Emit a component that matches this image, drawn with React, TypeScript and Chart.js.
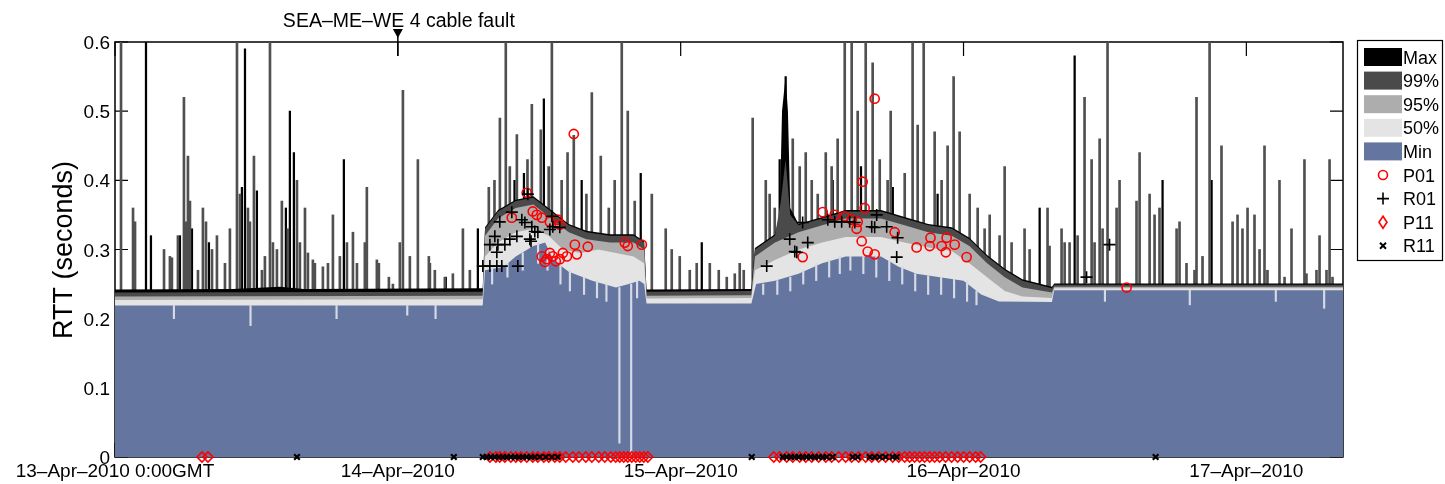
import { useEffect, useRef } from 'react';
import { Chart, registerables } from 'chart.js';

Chart.register(...registerables);

const FONT = '"Liberation Sans", Arial, Helvetica, sans-serif';

// ---- axes ----
const X_MAX = 104.2; // hours after 13-Apr-2010 0:00 GMT
const xTickHours = [0, 24, 48, 72, 96];
const xTickLabels = ['13–Apr–2010 0:00GMT', '14–Apr–2010', '15–Apr–2010', '16–Apr–2010', '17–Apr–2010'];
const yTickValues = [0, 0.1, 0.2, 0.3, 0.4, 0.5, 0.6];
const yTickLabels = ['0', '0.1', '0.2', '0.3', '0.4', '0.5', '0.6'];
const annotationHour = 24;
const annotationText = 'SEA–ME–WE 4 cable fault';

// ---- percentile layers: [hour, RTT seconds] ----
const maxLayer = [
  [0, 0.242], [10, 0.243], [14, 0.246], [16, 0.243], [31.2, 0.244], [31.4, 0.332], [32.5, 0.357], [34, 0.372],
  [35.5, 0.377], [37, 0.357], [38.5, 0.337], [40, 0.327], [42, 0.322], [44, 0.322], [44.9, 0.312], [45.1, 0.242],
  [54.0, 0.243], [54.3, 0.302], [56.0, 0.322], [56.4, 0.35], [56.6, 0.50], [56.9, 0.55], [57.1, 0.50], [57.3, 0.36],
  [58, 0.337], [60, 0.347], [62, 0.357], [65, 0.357], [67, 0.347], [69, 0.337], [71, 0.332], [72.5, 0.317],
  [74, 0.292], [75.5, 0.272], [77, 0.257], [79.5, 0.246], [79.7, 0.251], [104.2, 0.251],
];
const p99Layer = [
  [0, 0.238], [31.2, 0.239], [31.4, 0.33], [32.5, 0.355], [34, 0.37], [35.5, 0.375], [37, 0.355], [38.5, 0.335],
  [40, 0.325], [42, 0.32], [44, 0.32], [44.9, 0.31], [45.1, 0.239], [54.0, 0.24], [54.3, 0.30], [56, 0.32],
  [56.5, 0.37], [56.9, 0.43], [57.3, 0.35], [58, 0.335], [60, 0.345], [62, 0.355], [65, 0.355], [67, 0.345],
  [69, 0.335], [71, 0.33], [72.5, 0.315], [74, 0.29], [75.5, 0.27], [77, 0.255], [79.5, 0.244], [79.7, 0.249],
  [104.2, 0.249],
];
const p95Layer = [
  [0, 0.232], [31.2, 0.233], [31.4, 0.32], [32.5, 0.345], [34, 0.36], [35.5, 0.365], [37, 0.345], [38.5, 0.325],
  [40, 0.315], [42, 0.31], [44, 0.31], [44.9, 0.30], [45.1, 0.233], [54.0, 0.234], [54.3, 0.29], [56, 0.31],
  [58, 0.325], [60, 0.335], [62, 0.345], [65, 0.345], [67, 0.335], [69, 0.325], [71, 0.32], [72.5, 0.305],
  [74, 0.28], [75.5, 0.26], [77, 0.245], [79.5, 0.238], [79.7, 0.246], [104.2, 0.246],
];
const p50Layer = [
  [0, 0.227], [31.2, 0.228], [31.4, 0.29], [32.5, 0.31], [34, 0.325], [35.5, 0.33], [36.8, 0.32], [38, 0.30],
  [39.5, 0.295], [41, 0.30], [42.5, 0.295], [44, 0.29], [44.9, 0.28], [45.1, 0.229], [54.0, 0.23], [54.3, 0.27],
  [56, 0.285], [58, 0.30], [60, 0.31], [62, 0.318], [65, 0.318], [67, 0.31], [69, 0.303], [71, 0.298],
  [72.5, 0.28], [74, 0.26], [75.5, 0.24], [77, 0.232], [79.5, 0.23], [79.7, 0.244], [104.2, 0.244],
];
const minLayer = [
  [0, 0.219], [31.2, 0.219], [31.4, 0.27], [33, 0.275], [34, 0.29], [35.5, 0.305], [36.5, 0.31], [37.2, 0.285],
  [38.5, 0.268], [40.5, 0.255], [42.5, 0.245], [43.6, 0.25], [44.5, 0.255], [44.9, 0.25], [45.1, 0.222],
  [54.0, 0.222], [54.4, 0.25], [56, 0.255], [58, 0.265], [60, 0.28], [62, 0.29], [65, 0.29], [66.5, 0.275],
  [68, 0.265], [70, 0.26], [72, 0.255], [73.5, 0.235], [75, 0.225], [79.5, 0.224], [79.7, 0.241], [104.2, 0.241],
];

// ---- short spikes: [hour, peak RTT] ----
const maxSpikes = [
  [2.63, 0.62], [3.05, 0.32], [5.51, 0.32], [6.53, 0.33], [7.97, 0.31], [10.77, 0.39], [11.03, 0.59],
  [12.04, 0.385], [14.84, 0.50], [15.18, 0.44], [14.5, 0.36], [19.42, 0.43], [28.07, 0.26], [30.79, 0.33],
  [33.9, 0.40], [34.7, 0.41], [36.39, 0.518], [39.6, 0.40], [44.61, 0.41], [49.79, 0.31], [56.40, 0.43],
  [56.91, 0.55], [60.9, 0.40], [63.3, 0.42], [66.0, 0.39], [69.8, 0.38], [78.46, 0.36], [81.43, 0.58],
  [88.89, 0.40], [93.05, 0.40],
];
const p99Spikes = [
  [0.51, 0.62], [1.53, 0.36], [1.70, 0.34], [4.16, 0.30], [4.66, 0.29], [4.83, 0.288], [5.34, 0.32], [5.85, 0.52],
  [6.02, 0.34], [6.19, 0.435], [6.36, 0.37], [7.04, 0.27], [7.46, 0.36], [7.72, 0.34], [8.23, 0.30], [8.65, 0.32],
  [9.33, 0.28], [9.75, 0.33], [10.35, 0.62], [10.60, 0.38], [11.28, 0.36], [11.45, 0.34], [11.79, 0.435],
  [12.47, 0.27], [12.72, 0.29], [13.15, 0.62], [13.40, 0.31], [13.74, 0.30], [14.16, 0.37], [14.67, 0.33],
  [15.44, 0.40], [15.69, 0.31], [16.12, 0.36], [16.37, 0.295], [16.79, 0.285], [16.96, 0.28], [17.64, 0.275],
  [18.07, 0.28], [18.49, 0.35], [19.08, 0.29], [19.68, 0.31], [20.19, 0.325], [20.53, 0.28], [21.20, 0.31],
  [21.37, 0.39], [22.22, 0.285], [22.39, 0.28], [23.24, 0.26], [23.58, 0.25], [24.17, 0.31], [24.43, 0.53],
  [25.02, 0.29], [25.70, 0.43], [26.63, 0.29], [26.72, 0.28], [27.14, 0.27], [27.99, 0.26], [28.67, 0.265],
  [29.52, 0.33], [30.11, 0.27],
  [31.72, 0.39], [32.2, 0.40], [32.66, 0.49], [33.16, 0.62], [33.5, 0.42], [34.10, 0.466], [35.0, 0.43],
  [35.37, 0.51], [36.13, 0.473], [36.8, 0.42], [37.07, 0.62], [37.9, 0.40], [38.4, 0.44], [38.93, 0.465],
  [40.0, 0.38], [40.46, 0.527], [41.22, 0.435], [41.9, 0.36], [42.4, 0.40], [43.00, 0.62], [43.51, 0.50],
  [44.1, 0.37], [45.55, 0.38], [46.73, 0.33],
  [47.24, 0.30], [47.92, 0.29], [48.77, 0.27], [49.36, 0.28], [50.47, 0.28], [51.23, 0.27], [51.91, 0.26],
  [52.59, 0.265], [53.01, 0.28], [53.35, 0.27], [54.11, 0.49],
  [55.22, 0.40], [55.55, 0.38], [55.98, 0.36], [57.51, 0.46], [58.10, 0.42], [58.61, 0.44], [59.12, 0.40],
  [59.63, 0.38], [60.31, 0.44], [60.81, 0.42], [61.32, 0.46], [61.92, 0.62], [62.51, 0.62], [63.02, 0.50],
  [63.70, 0.62], [64.29, 0.57], [64.89, 0.43], [65.56, 0.40], [65.82, 0.50], [67.01, 0.41], [67.68, 0.62],
  [68.11, 0.48], [68.62, 0.62], [69.55, 0.47], [70.14, 0.40], [70.65, 0.45], [71.16, 0.55], [71.67, 0.47],
  [72.52, 0.38], [73.20, 0.36], [73.79, 0.33], [74.22, 0.35], [75.06, 0.32], [75.49, 0.42], [76.08, 0.31],
  [77.18, 0.33], [77.61, 0.30], [79.13, 0.36], [79.30, 0.305],
  [80.32, 0.33], [80.58, 0.31], [81.00, 0.31], [81.68, 0.32], [82.27, 0.52], [82.87, 0.43], [83.12, 0.31],
  [83.55, 0.46], [83.80, 0.33], [84.22, 0.62], [84.99, 0.36], [85.24, 0.40], [86.68, 0.37], [86.94, 0.44],
  [87.79, 0.38], [88.21, 0.35], [88.63, 0.36], [90.08, 0.33], [90.33, 0.34], [90.92, 0.28], [91.60, 0.27],
  [91.77, 0.52], [92.28, 0.29], [92.88, 0.62], [93.89, 0.45], [94.83, 0.34], [95.25, 0.35], [95.67, 0.33],
  [96.10, 0.36], [96.69, 0.35], [97.12, 0.30], [97.54, 0.45], [97.79, 0.27], [98.81, 0.40], [99.24, 0.26],
  [99.83, 0.33], [100.93, 0.43], [101.10, 0.265], [101.95, 0.27], [102.21, 0.32], [102.80, 0.27], [103.06, 0.43],
  [103.31, 0.26],
];
// ---- downward streaks in the Min layer: [hour, low, high] ----
const minDips = [
  [5.0, 0.2, 0.219], [11.5, 0.19, 0.219], [18.8, 0.2, 0.219], [24.8, 0.205, 0.219], [27.2, 0.2, 0.219],
  [32.0, 0.25, 0.275], [33.3, 0.26, 0.28], [34.6, 0.27, 0.295], [35.9, 0.28, 0.31], [36.7, 0.27, 0.30],
  [37.8, 0.25, 0.28], [38.6, 0.24, 0.27], [39.8, 0.235, 0.26], [40.9, 0.23, 0.255], [41.7, 0.225, 0.25],
  [42.8, 0.02, 0.245], [43.8, 0.0, 0.25], [44.3, 0.23, 0.255],
  [55.0, 0.235, 0.25], [56.2, 0.235, 0.255], [57.3, 0.24, 0.26], [58.4, 0.25, 0.27], [59.5, 0.255, 0.28],
  [60.6, 0.26, 0.285], [61.5, 0.265, 0.29], [62.4, 0.27, 0.29], [63.5, 0.265, 0.29], [64.6, 0.26, 0.29],
  [65.7, 0.255, 0.285], [66.8, 0.25, 0.275], [67.9, 0.24, 0.265], [69.0, 0.235, 0.262], [70.1, 0.235, 0.26],
  [71.2, 0.23, 0.257], [72.3, 0.225, 0.255], [73.1, 0.22, 0.24],
  [84.0, 0.225, 0.241], [91.2, 0.22, 0.241], [98.5, 0.225, 0.241], [102.6, 0.215, 0.241],
];

// ---- probe markers: [hour, RTT] ----
const p01Points = [
  [34.94, 0.382], [33.67, 0.346], [35.45, 0.355], [35.79, 0.35], [36.22, 0.346], [36.90, 0.34], [37.57, 0.343],
  [37.74, 0.336], [36.22, 0.29], [36.64, 0.286], [37.15, 0.29], [37.74, 0.286], [38.34, 0.29], [39.02, 0.307],
  [39.19, 0.293], [40.12, 0.304], [38.93, 0.467], [43.26, 0.31], [43.51, 0.305], [44.70, 0.307], [36.47, 0.282],
  [36.90, 0.295], [37.40, 0.283], [38.0, 0.295],
  [63.61, 0.36], [60.05, 0.354], [61.07, 0.35], [61.92, 0.348], [62.51, 0.343], [63.02, 0.34], [62.93, 0.33],
  [63.36, 0.312], [63.87, 0.297], [64.46, 0.293], [66.16, 0.325], [58.35, 0.289], [68.02, 0.303], [69.13, 0.305],
  [69.20, 0.317], [70.14, 0.305], [70.57, 0.317], [70.50, 0.296], [71.25, 0.307], [72.26, 0.289], [64.46, 0.518],
  [63.44, 0.398], [85.84, 0.245],
];
const r01Points = [
  [35.03, 0.38], [33.67, 0.354], [32.65, 0.34], [34.52, 0.343], [34.78, 0.339], [35.37, 0.333], [35.62, 0.326],
  [37.07, 0.348], [37.15, 0.333], [36.90, 0.329], [37.74, 0.332], [32.23, 0.319], [31.81, 0.307], [32.49, 0.307],
  [33.08, 0.307], [33.50, 0.315], [34.10, 0.319], [35.20, 0.315], [32.40, 0.296], [31.21, 0.276], [31.81, 0.276],
  [32.40, 0.276], [32.82, 0.276], [34.18, 0.276], [35.30, 0.312], [35.88, 0.325],
  [55.30, 0.276], [57.25, 0.315], [58.78, 0.31], [57.68, 0.297], [57.85, 0.296], [58.35, 0.339], [60.48, 0.343],
  [61.07, 0.34], [61.66, 0.34], [62.34, 0.34], [62.77, 0.339], [64.21, 0.333], [64.46, 0.332], [64.63, 0.35],
  [65.48, 0.333], [66.41, 0.317], [66.33, 0.289], [84.39, 0.307], [82.44, 0.26],
];
const p11Hours = [
  7.38, 7.89, 31.81, 32.32, 32.65, 33.08, 33.59, 34.01, 34.44, 34.94, 35.45, 35.88, 36.39, 36.81, 37.32, 37.74,
  38.25, 38.85, 39.36, 39.95, 40.46, 41.05, 41.56, 42.07, 42.49, 42.83, 43.17, 43.51, 43.85, 44.19, 44.53, 44.87,
  45.21, 55.90, 56.40, 57.00, 57.51, 58.10, 58.61, 59.12, 59.71, 60.31, 60.81, 61.41, 62.00, 62.51, 63.10, 63.70,
  64.21, 64.80, 65.39, 65.99, 66.50, 67.01, 67.43, 67.85, 68.28, 68.70, 69.13, 69.55, 69.97, 70.48, 70.99, 71.50,
  72.01, 72.52, 73.03, 73.45,
];
const r11Hours = [
  15.44, 28.75, 31.21, 31.55, 31.89, 32.23, 32.57, 32.91, 33.25, 33.59, 33.93, 34.27, 34.61, 34.94, 35.28, 35.62,
  36.05, 36.56, 37.07, 37.57, 54.03, 56.66, 57.00, 57.34, 57.68, 58.02, 58.35, 58.69, 59.03, 59.37, 59.71, 60.05,
  60.39, 60.90, 62.60, 63.02, 64.04, 64.46, 64.89, 65.39, 65.99, 66.33, 88.30,
];

// ---- colours ----
const C_MAX = '#000000';
const C_99 = '#4a4a4a';
const C_95 = '#adadad';
const C_50 = '#e4e4e4';
const C_MIN = '#6476a0';
const C_RED = '#ff0000';

const legendRows = [
  { label: 'Max', kind: 'box', color: C_MAX },
  { label: '99%', kind: 'box', color: C_99 },
  { label: '95%', kind: 'box', color: C_95 },
  { label: '50%', kind: 'box', color: C_50 },
  { label: 'Min', kind: 'box', color: C_MIN },
  { label: 'P01', kind: 'circle', color: C_RED },
  { label: 'R01', kind: 'plus', color: '#000' },
  { label: 'P11', kind: 'diamond', color: C_RED },
  { label: 'R11', kind: 'x', color: '#000' },
];

const toXY = (arr: number[][]) => arr.map(([x, y]) => ({ x, y }));

function drawMarker(ctx: CanvasRenderingContext2D, kind: string, x: number, y: number, color: string) {
  ctx.save();
  ctx.strokeStyle = color;
  ctx.lineWidth = 1.6;
  ctx.beginPath();
  if (kind === 'circle') {
    ctx.arc(x, y, 4.5, 0, Math.PI * 2);
  } else if (kind === 'plus') {
    ctx.moveTo(x - 6, y); ctx.lineTo(x + 6, y);
    ctx.moveTo(x, y - 6); ctx.lineTo(x, y + 6);
  } else if (kind === 'diamond') {
    ctx.moveTo(x, y - 6); ctx.lineTo(x + 4, y); ctx.lineTo(x, y + 6); ctx.lineTo(x - 4, y); ctx.closePath();
  } else if (kind === 'x') {
    ctx.lineWidth = 2;
    ctx.moveTo(x - 3, y - 3); ctx.lineTo(x + 3, y + 3);
    ctx.moveTo(x + 3, y - 3); ctx.lineTo(x - 3, y + 3);
  }
  ctx.stroke();
  ctx.restore();
}

const axesUnderPlugin = {
  id: 'axesUnder',
  beforeDatasetsDraw(chart: any) {
    const { ctx, chartArea: a, scales } = chart;
    const xs = scales.x, ys = scales.y;
    ctx.save();
    ctx.strokeStyle = '#000';
    ctx.lineWidth = 1.5;
    ctx.strokeRect(a.left, a.top, a.right - a.left, a.bottom - a.top);
    ctx.lineWidth = 1.2;
    ctx.beginPath();
    yTickValues.forEach((v) => {
      const py = ys.getPixelForValue(v);
      ctx.moveTo(a.left, py); ctx.lineTo(a.left + 13, py);
      ctx.moveTo(a.right, py); ctx.lineTo(a.right - 13, py);
    });
    xTickHours.forEach((h) => {
      const px = xs.getPixelForValue(h);
      ctx.moveTo(px, a.top); ctx.lineTo(px, a.top + 14);
      ctx.moveTo(px, a.bottom); ctx.lineTo(px, a.bottom - 14);
    });
    ctx.stroke();
    ctx.restore();
  },
};

const textPlugin = {
  id: 'texts',
  afterDraw(chart: any) {
    const { ctx, chartArea: a, scales } = chart;
    const xs = scales.x, ys = scales.y;
    ctx.save();
    ctx.fillStyle = '#000';
    ctx.font = `19px ${FONT}`;
    ctx.textAlign = 'right';
    ctx.textBaseline = 'alphabetic';
    yTickValues.forEach((v, i) => {
      ctx.fillText(yTickLabels[i], a.left - 5, ys.getPixelForValue(v) + 7);
    });
    ctx.textAlign = 'center';
    xTickHours.forEach((h, i) => {
      ctx.fillText(xTickLabels[i], xs.getPixelForValue(h), a.bottom + 20);
    });
    // annotation
    const ax = xs.getPixelForValue(annotationHour);
    ctx.font = `19.5px ${FONT}`;
    ctx.fillText(annotationText, ax + 1, 27);
    ctx.beginPath();
    ctx.moveTo(ax - 5, 29); ctx.lineTo(ax + 5, 29); ctx.lineTo(ax, 38); ctx.closePath();
    ctx.fill();
    ctx.strokeStyle = '#000';
    ctx.lineWidth = 1.5;
    ctx.beginPath();
    ctx.moveTo(ax, 36); ctx.lineTo(ax, a.top + 14);
    ctx.stroke();
    // y title
    ctx.save();
    ctx.translate(72, 250);
    ctx.rotate(-Math.PI / 2);
    ctx.font = `27px ${FONT}`;
    ctx.textAlign = 'center';
    ctx.textBaseline = 'alphabetic';
    ctx.fillText('RTT (seconds)', 0, 0);
    ctx.restore();
    // legend
    const lx = 1357, ly = 40, lw = 85, lh = 220;
    ctx.fillStyle = '#fff';
    ctx.fillRect(lx, ly, lw, lh);
    ctx.strokeStyle = '#000';
    ctx.lineWidth = 1.2;
    ctx.strokeRect(lx + 0.5, ly + 0.5, lw, lh);
    ctx.font = `18px ${FONT}`;
    ctx.textAlign = 'left';
    legendRows.forEach((row, i) => {
      const cy = 57 + i * 23.6;
      if (row.kind === 'box') {
        ctx.fillStyle = row.color;
        ctx.fillRect(1364, cy - 9, 38, 18);
      } else {
        drawMarker(ctx, row.kind, 1383, cy, row.color);
      }
      ctx.fillStyle = '#000';
      ctx.fillText(row.label, 1403, cy + 6.5);
    });
    ctx.restore();
  },
};

function areaDataset(label: string, arr: number[][], color: string, order: number) {
  return {
    type: 'line',
    label,
    data: toXY(arr),
    borderWidth: 0,
    borderColor: color,
    backgroundColor: color,
    fill: 'origin',
    pointRadius: 0,
    tension: 0,
    order,
  };
}

export default function App() {
  const ref = useRef<HTMLCanvasElement | null>(null);
  useEffect(() => {
    if (!ref.current) return;
    const chart = new Chart(ref.current, {
      type: 'line',
      data: {
        datasets: [
          {
            type: 'line', label: 'P01', data: toXY(p01Points), showLine: false, fill: false,
            pointStyle: 'circle', pointRadius: 4.6, pointBorderColor: C_RED, pointBackgroundColor: 'transparent',
            pointBorderWidth: 1.6, order: 1, clip: false,
          },
          {
            type: 'line', label: 'R01', data: toXY(r01Points), showLine: false, fill: false,
            pointStyle: 'cross', pointRadius: 6, pointBorderColor: '#000', pointBackgroundColor: 'transparent',
            pointBorderWidth: 1.6, order: 0, clip: false,
          },
          {
            type: 'line', label: 'P11', data: p11Hours.map((x) => ({ x, y: 0 })), showLine: false, fill: false,
            pointStyle: 'rectRot', pointRadius: 5, pointBorderColor: C_RED, pointBackgroundColor: 'transparent',
            pointBorderWidth: 1.6, order: 3, clip: false,
          },
          {
            type: 'line', label: 'R11', data: r11Hours.map((x) => ({ x, y: 0 })), showLine: false, fill: false,
            pointStyle: 'crossRot', pointRadius: 4, pointBorderColor: '#000', pointBackgroundColor: 'transparent',
            pointBorderWidth: 2.2, order: 2, clip: false,
          },
          {
            type: 'bar', label: 'dips', data: minDips.map(([x, lo, hi]) => ({ x, y: [lo, hi] })),
            backgroundColor: '#d6dae4', barThickness: 1.5, grouped: false, order: 4,
          },
          areaDataset('Min', minLayer, C_MIN, 5),
          areaDataset('50%', p50Layer, C_50, 6),
          areaDataset('95%', p95Layer, C_95, 7),
          areaDataset('99%', p99Layer, C_99, 8),
          areaDataset('Max', maxLayer, C_MAX, 9),
          {
            type: 'bar', label: 'p99 spikes', data: toXY(p99Spikes),
            backgroundColor: '#505050', barThickness: 2, grouped: false, order: 10,
          },
          {
            type: 'bar', label: 'max spikes', data: toXY(maxSpikes),
            backgroundColor: '#000', barThickness: 1.6, grouped: false, order: 11,
          },
        ] as any,
      },
      options: {
        animation: false,
        responsive: false,
        maintainAspectRatio: false,
        events: [],
        layout: { padding: { left: 115, right: 102, top: 42, bottom: 27 } },
        plugins: { legend: { display: false }, tooltip: { enabled: false } },
        scales: {
          x: { type: 'linear', display: false, min: 0, max: X_MAX, offset: false },
          y: { type: 'linear', display: false, min: 0, max: 0.6 },
        },
      } as any,
      plugins: [axesUnderPlugin, textPlugin],
    });
    return () => chart.destroy();
  }, []);
  return (
    <div style={{ position: 'absolute', left: 0, top: 0, width: 1445, height: 484, background: '#fff' }}>
      <canvas ref={ref} width={1445} height={484} style={{ display: 'block', width: 1445, height: 484 }} />
    </div>
  );
}
